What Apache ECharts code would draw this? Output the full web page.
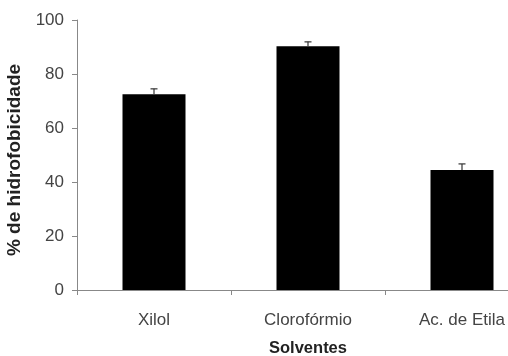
<!DOCTYPE html>
<html><head><meta charset="utf-8">
<script src="https://cdn.jsdelivr.net/npm/echarts@6/dist/echarts.min.js"></script>
<style>html,body{margin:0;padding:0;background:#fff}#c{width:508px;height:356px}</style>
</head><body><div id="c"></div>
<script>
var categories = ['Xilol', 'Clorofórmio', 'Ac. de Etila'];
var values = [72.5, 90.3, 44.4];
var errors = [2.0, 1.6, 2.3];
var yTicks = [0, 20, 40, 60, 80, 100];

var chart = echarts.init(document.getElementById('c'), null, {renderer: 'canvas'});
var errData = values.map(function (v, i) { return [i, v, v + errors[i]]; });
chart.setOption({
  animation: false,
  grid: {left: 77, width: 462, top: 20, height: 270, containLabel: false, outerBoundsMode: 'none'},
  xAxis: {
    type: 'category', data: categories,
    name: 'Solventes', nameLocation: 'middle', nameGap: 50,
    nameTextStyle: {fontFamily: 'Liberation Sans', fontWeight: 'bold', fontSize: 16.5, color: '#222'},
    axisLine: {lineStyle: {color: '#888', width: 1}},
    axisTick: {show: true, length: 5, lineStyle: {color: '#888'}},
    axisLabel: {margin: 22, fontFamily: 'Liberation Sans', fontSize: 17, color: '#444'}
  },
  yAxis: {
    type: 'value', min: yTicks[0], max: yTicks[yTicks.length - 1], interval: 20,
    name: '% de hidrofobicidade', nameLocation: 'middle', nameGap: 52,
    nameTextStyle: {fontFamily: 'Liberation Sans', fontWeight: 'bold', fontSize: 19, color: '#222', padding: [0, 0, 0, -10]},
    axisLine: {show: true, lineStyle: {color: '#888', width: 1}},
    axisTick: {show: true, length: 5, lineStyle: {color: '#888'}},
    splitLine: {show: false},
    axisLabel: {margin: 13, fontFamily: 'Liberation Sans', fontSize: 17, color: '#444'}
  },
  series: [
    {type: 'bar', data: values, barWidth: 63, itemStyle: {color: '#000'}},
    {type: 'custom', data: errData, z: 10,
      renderItem: function (params, api) {
        var x = api.value(0);
        var lo = api.coord([x, api.value(1)]);
        var hi = api.coord([x, api.value(2)]);
        var hw = 3.5;
        var st = {stroke: '#333', lineWidth: 1.2};
        return {type: 'group', children: [
          {type: 'line', shape: {x1: lo[0], y1: lo[1], x2: hi[0], y2: hi[1]}, style: st},
          {type: 'line', shape: {x1: hi[0] - hw, y1: hi[1], x2: hi[0] + hw, y2: hi[1]}, style: st}
        ]};
      }
    }
  ]
});
</script></body></html>
